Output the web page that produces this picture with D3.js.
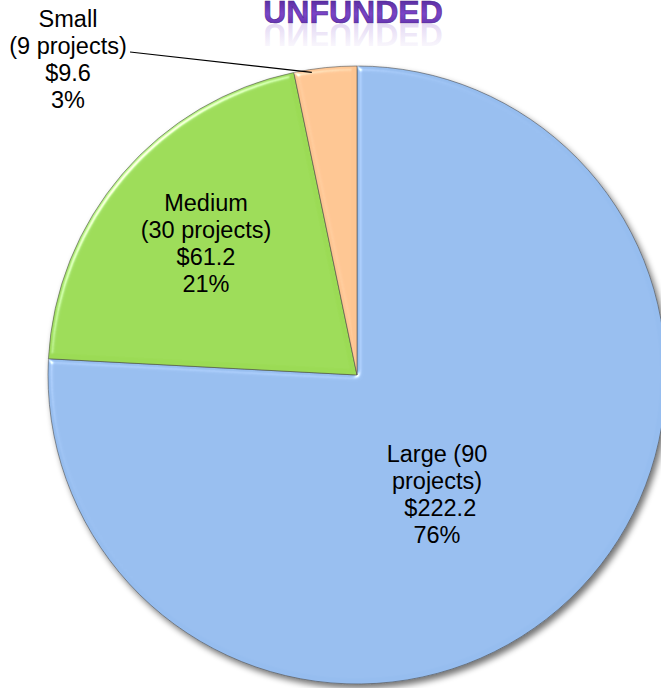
<!doctype html>
<html>
<head>
<meta charset="utf-8">
<style>
body { margin: 0; background: white; font-family: "Liberation Sans", Arial, sans-serif; }
svg { display: block; }
</style>
<script src="https://cdnjs.cloudflare.com/ajax/libs/d3/7.8.5/d3.min.js"></script>
</head>
<body>
<div id="chart"></div>
<script>
// data
var categories = ["Large", "Medium", "Small"];
var projects = [90, 30, 9];
var amounts = [222.2, 61.2, 9.6];
var colors = ["#96bdef", "#9bdb55", "#fdc592"];

var width = 661, height = 688;
var cx = 357, cy = 375, radius = 309;

// where the text blocks sit (center x, first baseline)
var labelPos = [[437, 462], [206, 211], [68, 27]];
var lineH = 27;

var svg = d3.select("#chart").append("svg")
  .attr("width", width).attr("height", height);

var defs = svg.append("defs");

var shadow = defs.append("filter").attr("id", "shadow")
  .attr("x", "-10%").attr("y", "-10%").attr("width", "130%").attr("height", "130%");
shadow.append("feGaussianBlur").attr("in", "SourceAlpha").attr("stdDeviation", 3).attr("result", "b");
shadow.append("feOffset").attr("in", "b").attr("dx", 3).attr("dy", 4).attr("result", "o");
shadow.append("feComponentTransfer").attr("in", "o").attr("result", "s")
  .append("feFuncA").attr("type", "linear").attr("slope", 0.55);
var merge = shadow.append("feMerge");
merge.append("feMergeNode").attr("in", "s");
merge.append("feMergeNode").attr("in", "SourceGraphic");

// soft bevel on each slice
var bevel = defs.append("filter").attr("id", "bevel")
  .attr("x", "-5%").attr("y", "-5%").attr("width", "110%").attr("height", "110%");
bevel.append("feGaussianBlur").attr("in", "SourceAlpha").attr("stdDeviation", 2.5).attr("result", "blur");
bevel.append("feSpecularLighting").attr("in", "blur").attr("surfaceScale", 3)
  .attr("specularConstant", 0.7).attr("specularExponent", 40)
  .attr("lighting-color", "#ffffff").attr("result", "spec")
  .append("feDistantLight").attr("azimuth", 225).attr("elevation", 40);
bevel.append("feComposite").attr("in", "spec").attr("in2", "SourceAlpha")
  .attr("operator", "in").attr("result", "specIn");
bevel.append("feComposite").attr("in", "SourceGraphic").attr("in2", "specIn")
  .attr("operator", "arithmetic").attr("k1", 0).attr("k2", 1).attr("k3", 1).attr("k4", 0);

var titleGrad = defs.append("linearGradient").attr("id", "titleGrad")
  .attr("x1", 0).attr("y1", 0).attr("x2", 0).attr("y2", 1);
titleGrad.append("stop").attr("offset", "0%").attr("stop-color", "#4b2390");
titleGrad.append("stop").attr("offset", "55%").attr("stop-color", "#7b45c8");
titleGrad.append("stop").attr("offset", "100%").attr("stop-color", "#5a2ca0");

var reflGrad = defs.append("linearGradient").attr("id", "reflGrad")
  .attr("x1", 0).attr("y1", 0).attr("x2", 0).attr("y2", 1);
reflGrad.append("stop").attr("offset", "0%").attr("stop-color", "#7b45c8").attr("stop-opacity", 0);
reflGrad.append("stop").attr("offset", "100%").attr("stop-color", "#7b45c8").attr("stop-opacity", 0.25);

var pie = d3.pie().sort(null).value(function(d) { return d; });
var arc = d3.arc().innerRadius(0).outerRadius(radius);
var arcs = pie(amounts);
var total = d3.sum(amounts);

var g = svg.append("g").attr("transform", "translate(" + cx + "," + cy + ")");

var pieGroup = g.append("g").attr("filter", "url(#shadow)");
pieGroup.selectAll("path.slice")
  .data(arcs)
  .enter().append("path")
  .attr("class", "slice")
  .attr("d", arc)
  .attr("fill", function(d, i) { return colors[i]; })
  .attr("stroke", "rgba(70,70,70,0.55)")
  .attr("stroke-width", 1)
  .attr("filter", "url(#bevel)");

// leader line for the small slice
var smallArc = arcs[2];
var edgeAngle = smallArc.startAngle + (smallArc.endAngle - smallArc.startAngle) * 0.28;
var lx = Math.sin(edgeAngle) * (radius - 3), ly = -Math.cos(edgeAngle) * (radius - 3);
svg.append("line")
  .attr("x1", 130).attr("y1", 52)
  .attr("x2", cx + lx).attr("y2", cy + ly)
  .attr("stroke", "#000").attr("stroke-width", 1.2);

function labelLines(i) {
  var pct = Math.round(amounts[i] / total * 100) + "%";
  var money = "$" + amounts[i].toFixed(1);
  if (i === 0) return [categories[i] + " (" + projects[i], "projects)", " " + money, pct];
  return [categories[i], "(" + projects[i] + " projects)", money, pct];
}

categories.forEach(function(c, i) {
  var t = svg.append("text")
    .attr("x", labelPos[i][0]).attr("y", labelPos[i][1])
    .attr("text-anchor", "middle")
    .attr("font-size", 23.5)
    .attr("fill", "#000");
  labelLines(i).forEach(function(line, k) {
    t.append("tspan")
      .attr("x", labelPos[i][0])
      .attr("y", labelPos[i][1] + k * lineH)
      .attr("xml:space", "preserve")
      .text(line);
  });
});

// title with its faint reflection (flipped about the baseline)
svg.append("text")
  .attr("x", 353).attr("y", 23)
  .attr("text-anchor", "middle")
  .attr("font-size", 32).attr("font-weight", "bold")
  .attr("transform", "translate(0,47) scale(1,-1)")
  .attr("fill", "url(#reflGrad)")
  .text("UNFUNDED");
svg.append("text")
  .attr("x", 353).attr("y", 23)
  .attr("text-anchor", "middle")
  .attr("font-size", 32).attr("font-weight", "bold")
  .attr("fill", "url(#titleGrad)")
  .attr("stroke", "#4b2390").attr("stroke-width", 0.6)
  .text("UNFUNDED");
</script>
</body>
</html>
